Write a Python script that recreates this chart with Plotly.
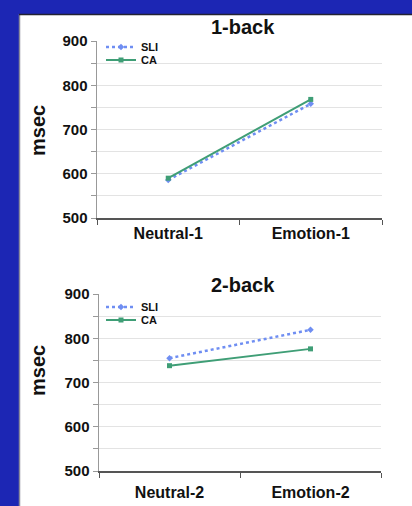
import plotly.graph_objects as go

W, H = 412, 506

categories_1 = ["Neutral-1", "Emotion-1"]
categories_2 = ["Neutral-2", "Emotion-2"]
sli_1 = [586, 758]
ca_1 = [590, 768]
sli_2 = [755, 819]
ca_2 = [738, 776]
y_ticks = [500, 550, 600, 650, 700, 750, 800, 850, 900]
y_ticktext = ["500", "", "600", "", "700", "", "800", "", "900"]

BLUE_SLI = "#6f8ef2"
GREEN_CA = "#3f9e76"
BORDER = "#1c26b4"

def px(x):
    return x / W

def py(y):
    return 1 - y / H

fig = go.Figure()

for (cats, sli, ca, xa, ya, lg_s, lg_c) in [
    (categories_1, sli_1, ca_1, "x", "y", "legend", "legend2"),
    (categories_2, sli_2, ca_2, "x2", "y2", "legend3", "legend4"),
]:
    fig.add_trace(go.Scatter(
        x=cats, y=sli, name="SLI", mode="lines+markers",
        line=dict(color=BLUE_SLI, width=2.5, dash="dot"),
        marker=dict(symbol="diamond", size=5, color=BLUE_SLI),
        xaxis=xa, yaxis=ya, legend=lg_s,
    ))
    fig.add_trace(go.Scatter(
        x=cats, y=ca, name="CA", mode="lines+markers",
        line=dict(color=GREEN_CA, width=2),
        marker=dict(symbol="square", size=5, color=GREEN_CA),
        xaxis=xa, yaxis=ya, legend=lg_c,
    ))

xcommon = dict(
    type="category", range=[-0.5, 1.5], showline=True, linecolor="#555555",
    linewidth=1.5, ticks="outside", ticklen=5, tickcolor="#555555",
    tickson="boundaries", showgrid=False, automargin=False,
    tickfont=dict(family="Arial, Liberation Sans", size=16, color="#111111", weight="bold"),
    fixedrange=True,
)
ycommon = dict(
    range=[500, 900], tickvals=y_ticks, ticktext=y_ticktext,
    showline=True, linecolor="#999999", linewidth=1.5,
    ticks="outside", ticklen=5, tickcolor="#999999", automargin=False,
    showgrid=True, gridcolor="#e3e3e3", gridwidth=1.2,
    tickfont=dict(family="Arial, Liberation Sans", size=15, color="#111111", weight="bold"),
    zeroline=False, fixedrange=True,
)

legfont = dict(family="Arial, Liberation Sans", size=11, color="#111111", weight="bold")

def leg(ypix):
    return dict(x=px(101), y=py(ypix), xanchor="left", yanchor="middle",
                bgcolor="rgba(0,0,0,0)", itemwidth=30, font=legfont,
                borderwidth=0)

fig.update_layout(
    width=W, height=H, margin=dict(l=0, r=0, t=0, b=0, pad=0, autoexpand=False),
    paper_bgcolor="white", plot_bgcolor="white",
    xaxis=dict(domain=[px(97), px(382)], anchor="y", **xcommon),
    yaxis=dict(domain=[py(218), py(41)], anchor="x", **ycommon),
    xaxis2=dict(domain=[px(99), px(381)], anchor="y2", ticklabelstandoff=6, **xcommon),
    yaxis2=dict(domain=[py(471), py(294)], anchor="x2", **ycommon),
    legend=leg(47), legend2=leg(60), legend3=leg(307), legend4=leg(320),
    showlegend=True,
)

# Blue frame
fig.add_shape(type="rect", xref="paper", yref="paper", x0=0, x1=px(19), y0=0, y1=1,
              fillcolor=BORDER, line=dict(width=0), layer="above")
fig.add_shape(type="rect", xref="paper", yref="paper", x0=0, x1=1, y0=py(14), y1=1,
              fillcolor=BORDER, line=dict(width=0), layer="above")
fig.add_shape(type="line", xref="paper", yref="paper", x0=px(19.5), x1=px(19.5), y0=0, y1=py(14),
              line=dict(color="#8a8a9a", width=1.5), layer="above")
fig.add_shape(type="line", xref="paper", yref="paper", x0=px(19), x1=1, y0=py(14.5), y1=py(14.5),
              line=dict(color="#222233", width=1.5), layer="above")

font_title = dict(family="Arial, Liberation Sans", size=20, color="#111111", weight="bold")
ann = dict(xref="paper", yref="paper", showarrow=False, xanchor="center", yanchor="middle")
fig.add_annotation(text="1-back", x=px(243), y=py(27), font=font_title, **ann)
fig.add_annotation(text="2-back", x=px(243), y=py(285), font=font_title, **ann)
fig.add_annotation(text="msec", x=px(38), y=py(131), textangle=-90, font=font_title, **ann)
fig.add_annotation(text="msec", x=px(38), y=py(371), textangle=-90, font=font_title, **ann)

fig.write_html(
    "out.html",
    config={"displayModeBar": False, "staticPlot": True},
    post_script=(
        "var s='margin:0;padding:0;width:412px;height:506px;overflow:hidden;';"
        "document.documentElement.setAttribute('style',s);"
        "document.body.setAttribute('style',s+'position:relative;');"
        "var d=document.getElementById('{plot_id}');"
        "d.style.position='absolute';d.style.top='0px';d.style.left='0px';"
        "d.style.margin='0';window.scrollTo(0,0);"
    ),
)
